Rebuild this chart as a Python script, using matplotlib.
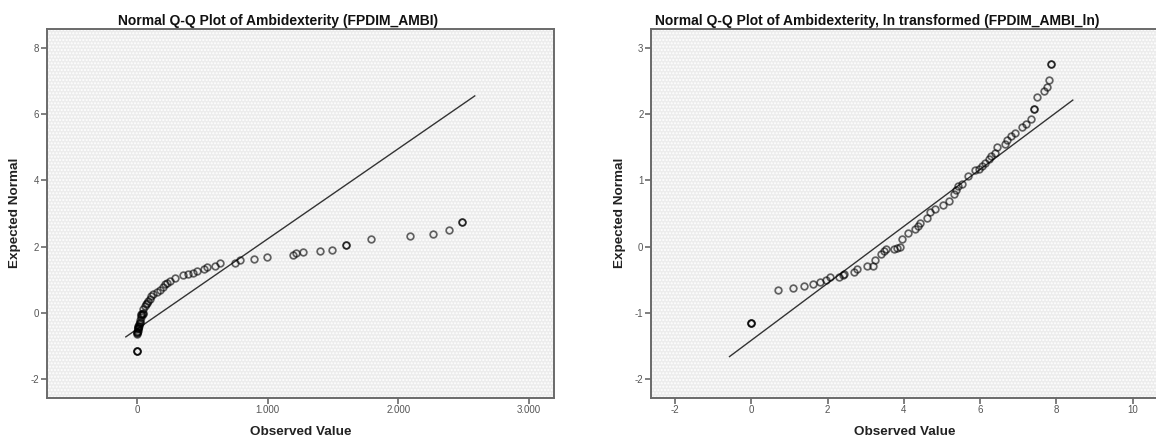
import matplotlib
matplotlib.use("Agg")
import matplotlib.pyplot as plt
from matplotlib.patches import Rectangle

plt.rcParams['font.family'] = ['Liberation Sans', 'DejaVu Sans']
plt.rcParams['axes.unicode_minus'] = False

# FPDIM_AMBI, raw values vs expected normal
raw_obs = [0, 0, 0, 1, 2, 3, 4, 5, 6, 7, 9, 10, 10, 14, 15, 20, 23, 25, 29, 31,
           33, 41, 45, 48, 50, 61, 72, 77, 83, 100, 107, 123, 150, 178, 201,
           212, 227, 251, 295, 353, 390, 427, 458, 512, 538, 601, 632, 749,
           791, 898, 997, 1195, 1220, 1271, 1398, 1494, 1596, 1596, 1794,
           2090, 2268, 2390, 2486, 2486]
raw_exp = [-1.14, -1.14, -1.14, -0.65, -0.62, -0.59, -0.57, -0.54, -0.50,
           -0.46, -0.46, -0.43, -0.41, -0.39, -0.34, -0.30, -0.29, -0.21,
           -0.11, -0.06, -0.035, -0.035, -0.02, 0.0, 0.11, 0.21, 0.26, 0.31,
           0.36, 0.43, 0.52, 0.56, 0.63, 0.69, 0.79, 0.86, 0.91, 0.95, 1.06,
           1.15, 1.17, 1.21, 1.26, 1.32, 1.37, 1.41, 1.50, 1.51, 1.58, 1.64,
           1.70, 1.76, 1.81, 1.83, 1.86, 1.91, 2.04, 2.04, 2.24, 2.31, 2.39,
           2.50, 2.74, 2.74]
raw_line_x = [-85, 2585]
raw_line_y = [-0.725, 6.546]

# FPDIM_AMBI_ln, log transformed values vs expected normal
ln_obs = [0, 0, 0, 0.69, 1.10, 1.39, 1.62, 1.80, 1.95, 2.07, 2.30, 2.39, 2.43,
          2.68, 2.77, 3.02, 3.19, 3.24, 3.39, 3.47, 3.53, 3.73, 3.83, 3.90,
          3.94, 4.12, 4.29, 4.36, 4.43, 4.61, 4.68, 4.82, 5.02, 5.19, 5.31,
          5.36, 5.43, 5.53, 5.69, 5.87, 5.97, 6.06, 6.13, 6.24, 6.29, 6.40,
          6.45, 6.65, 6.70, 6.82, 6.92, 7.11, 7.21, 7.33, 7.40, 7.40, 7.50,
          7.67, 7.75, 7.80, 7.85, 7.85]
ln_exp = [-1.15, -1.15, -1.15, -0.65, -0.62, -0.59, -0.57, -0.54, -0.50,
          -0.46, -0.46, -0.43, -0.41, -0.39, -0.34, -0.30, -0.29, -0.21,
          -0.11, -0.06, -0.035, -0.035, -0.02, 0.0, 0.11, 0.21, 0.26, 0.31,
          0.36, 0.43, 0.52, 0.56, 0.63, 0.69, 0.79, 0.86, 0.91, 0.95, 1.06,
          1.15, 1.17, 1.21, 1.26, 1.32, 1.37, 1.41, 1.50, 1.55, 1.61, 1.67,
          1.72, 1.80, 1.85, 1.92, 2.07, 2.07, 2.25, 2.34, 2.41, 2.51, 2.75,
          2.75]
ln_line_x = [-0.574, 8.43]
ln_line_y = [-1.66, 2.21]

raw_xticks = [0, 1000, 2000, 3000]
raw_xlabels = ["0", "1.000", "2.000", "3.000"]
raw_yticks = [-2, 0, 2, 4, 6, 8]
ln_xticks = [-2, 0, 2, 4, 6, 8, 10]
ln_yticks = [-2, -1, 0, 1, 2, 3]

titles = ["Normal Q-Q Plot of Ambidexterity (FPDIM_AMBI)",
          "Normal Q-Q Plot of Ambidexterity, ln transformed (FPDIM_AMBI_ln)"]

W, H = 1156, 441
fig = plt.figure(figsize=(W / 100, H / 100), dpi=100)
fig.patch.set_facecolor("white")

frame = "#6a6a6a"
tick_col = "#555555"


def qq_panel(left_px, obs, exp, line_x, line_y, xlim, ylim):
    ax = fig.add_axes([left_px / W, (H - 397.7) / H, 507.5 / W, 369.2 / H])
    ax.set_facecolor("#ececec")
    # faint dotted texture of the plot area
    ax.add_patch(Rectangle((0, 0), 1, 1, transform=ax.transAxes,
                           facecolor="none", edgecolor="white", lw=0,
                           hatch=".....", zorder=0.5))
    ax.plot(line_x, line_y, color="#333333", lw=1.0, zorder=2)
    ax.plot(obs, exp, linestyle="none", marker="o", ms=4.8, mew=1.25,
            mfc="none", mec=(0, 0, 0, 0.6), zorder=3)
    ax.set_xlim(*xlim)
    ax.set_ylim(*ylim)
    for s in ax.spines.values():
        s.set_color(frame)
        s.set_linewidth(1.4)
    ax.tick_params(direction="out", length=4, width=1.2, color=frame,
                   labelsize=7, labelcolor=tick_col, pad=1.5)
    return ax


ax1 = qq_panel(46.6, raw_obs, raw_exp, raw_line_x, raw_line_y,
               (-691, 3192), (-2.56, 8.58))
ax1.set_xticks(raw_xticks)
ax1.set_xticklabels(raw_xlabels)
ax1.set_yticks(raw_yticks)

ax2 = qq_panel(651.1, ln_obs, ln_exp, ln_line_x, ln_line_y,
               (-2.63, 10.68), (-2.28, 3.29))
ax2.set_xticks(ln_xticks)
ax2.set_yticks(ln_yticks)

# titles and axis labels
fig.text(278 / W, (H - 21) / H, titles[0], ha="center", va="center",
         fontsize=10, fontweight="bold", color="#111111")
fig.text(654.8 / W, (H - 21) / H, titles[1], ha="left", va="center",
         fontsize=10, fontweight="bold", color="#111111")
for cx, lx in [(300.4, 15.5), (904.9, 619.6)]:
    fig.text(cx / W, (H - 432) / H, "Observed Value", ha="center",
             va="center", fontsize=9.7, fontweight="bold", color="#222222")
    fig.text(lx / W, (H - 213) / H, "Expected Normal", ha="center",
             va="center", rotation=90, fontsize=9.7, fontweight="bold",
             color="#222222")

fig.savefig("out.png", dpi=100)
